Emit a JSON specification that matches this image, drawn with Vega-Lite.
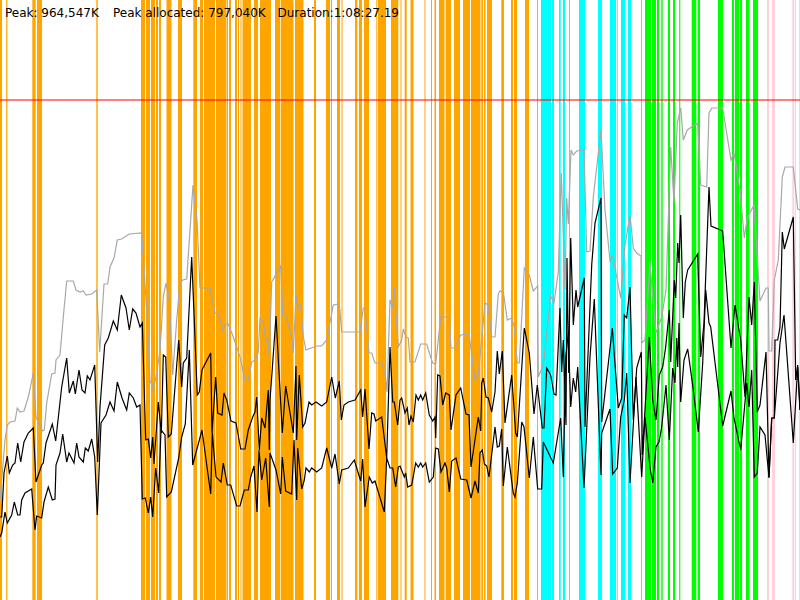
{
  "$schema": "https://vega.github.io/schema/vega-lite/v6.json",
  "description": "Memory use over a run, with marked phases, peak line and two usage lines.",
  "width": 800,
  "height": 600,
  "padding": 0,
  "autosize": {"type": "none"},
  "background": "white",
  "view": {"stroke": null},
  "datasets": {
    "phases": [
      {"start":0,"end":2,"phase":"a"},{"start":6.2,"end":7.4,"phase":"a"},{"start":32.3,"end":35.7,"phase":"a"},{"start":37,"end":42,"phase":"a"},{"start":96.3,"end":97.7,"phase":"a"},{"start":141,"end":145,"phase":"a"},{"start":146,"end":150,"phase":"a"},{"start":151,"end":155,"phase":"a"},{"start":156,"end":158,"phase":"a"},{"start":159,"end":161,"phase":"a"},{"start":166.5,"end":171.5,"phase":"a"},{"start":178,"end":182,"phase":"a"},{"start":193.3,"end":197,"phase":"a"},{"start":200,"end":203,"phase":"a"},{"start":204,"end":215,"phase":"a"},{"start":216,"end":226,"phase":"a"},{"start":226.5,"end":228,"phase":"a"},{"start":229,"end":231,"phase":"a"},{"start":235,"end":237,"phase":"a"},{"start":238,"end":239,"phase":"a"},{"start":240.5,"end":241.5,"phase":"a"},{"start":242.5,"end":251,"phase":"a"},{"start":254,"end":258,"phase":"a"},{"start":260,"end":271,"phase":"a"},{"start":275,"end":280,"phase":"a"},{"start":280.7,"end":293.5,"phase":"a"},{"start":295,"end":303.5,"phase":"a"},{"start":314,"end":316,"phase":"a"},{"start":326,"end":330,"phase":"a"},{"start":331,"end":332,"phase":"a"},{"start":337,"end":340,"phase":"a"},{"start":341.5,"end":342.5,"phase":"a"},{"start":355,"end":357.3,"phase":"a"},{"start":359,"end":362,"phase":"a"},{"start":364,"end":369,"phase":"a"},{"start":376.3,"end":377.3,"phase":"a"},{"start":378,"end":386,"phase":"a"},{"start":391,"end":398.3,"phase":"a"},{"start":400.5,"end":401.5,"phase":"a"},{"start":404.7,"end":406.7,"phase":"a"},{"start":410.5,"end":413.5,"phase":"a"},{"start":424.5,"end":425.5,"phase":"a"},{"start":431,"end":432,"phase":"a"},{"start":434.5,"end":436,"phase":"a"},{"start":439,"end":444.5,"phase":"a"},{"start":445.7,"end":451,"phase":"a"},{"start":454,"end":460,"phase":"a"},{"start":463,"end":470,"phase":"a"},{"start":471,"end":480.5,"phase":"a"},{"start":481.3,"end":483,"phase":"a"},{"start":484,"end":485.5,"phase":"a"},{"start":487,"end":492,"phase":"a"},{"start":501.3,"end":504,"phase":"a"},{"start":511,"end":513,"phase":"a"},{"start":514,"end":517,"phase":"a"},{"start":525,"end":529,"phase":"a"},
      {"start":537,"end":538,"phase":"b"},{"start":541,"end":551,"phase":"b"},{"start":552,"end":554,"phase":"b"},{"start":559,"end":560.7,"phase":"b"},{"start":563,"end":565,"phase":"b"},{"start":569,"end":570,"phase":"b"},{"start":579,"end":583,"phase":"b"},{"start":583,"end":585,"phase":"b"},{"start":598,"end":602,"phase":"b"},{"start":610,"end":616,"phase":"b"},{"start":617.2,"end":617.9,"phase":"b"},{"start":621,"end":625,"phase":"b"},{"start":628,"end":631,"phase":"b"},
      {"start":641.2,"end":641.9,"phase":"c"},{"start":645,"end":651,"phase":"c"},{"start":652,"end":656,"phase":"c"},{"start":657,"end":659,"phase":"c"},{"start":661.3,"end":662.7,"phase":"c"},{"start":668,"end":670,"phase":"c"},{"start":673,"end":675,"phase":"c"},{"start":679.2,"end":680.3,"phase":"c"},{"start":691.7,"end":696.3,"phase":"c"},{"start":697.7,"end":700,"phase":"c"},{"start":718,"end":723,"phase":"c"},{"start":732,"end":734,"phase":"c"},{"start":735,"end":739,"phase":"c"},{"start":740,"end":742,"phase":"c"},{"start":746,"end":749.5,"phase":"c"},{"start":753,"end":758,"phase":"c"},
      {"start":767,"end":769,"phase":"d"},{"start":772,"end":775,"phase":"d"},{"start":792.3,"end":794.3,"phase":"d"},{"start":795,"end":796,"phase":"d"},{"start":799,"end":800,"phase":"d"}
    ],
    "gray": [
      {"t":0,"mem":100},{"t":1.7,"mem":120},{"t":5,"mem":160},{"t":7.3,"mem":175},{"t":10,"mem":178},{"t":15,"mem":179},{"t":17.3,"mem":192},{"t":20,"mem":188},{"t":24,"mem":189},{"t":28.3,"mem":203},{"t":33.3,"mem":227},{"t":36,"mem":183},{"t":39.3,"mem":175},{"t":42.7,"mem":169},{"t":44.3,"mem":170},{"t":46.7,"mem":197},{"t":51.7,"mem":226},{"t":55,"mem":227},{"t":56,"mem":240},{"t":60,"mem":245},{"t":63.3,"mem":283},{"t":66.7,"mem":319},{"t":73.3,"mem":319},{"t":76,"mem":310},{"t":80,"mem":308},{"t":83.3,"mem":309},{"t":86,"mem":305},{"t":91.7,"mem":306},{"t":96.7,"mem":310},{"t":99.7,"mem":248},{"t":104,"mem":316},{"t":107.7,"mem":316},{"t":110,"mem":333},{"t":114,"mem":342},{"t":117.3,"mem":360},{"t":121.7,"mem":361},{"t":129.3,"mem":366},{"t":141.7,"mem":367},{"t":146.7,"mem":290},{"t":150,"mem":220},{"t":153.3,"mem":210},{"t":156.7,"mem":227},{"t":160,"mem":250},{"t":163.3,"mem":303},{"t":166,"mem":317},{"t":169.3,"mem":300},{"t":172.7,"mem":225},{"t":176.7,"mem":280},{"t":180,"mem":317},{"t":182.7,"mem":320},{"t":186.7,"mem":321},{"t":190,"mem":370},{"t":193,"mem":415},{"t":197,"mem":380},{"t":200,"mem":312},{"t":210,"mem":312},{"t":215,"mem":287},{"t":218.3,"mem":286},{"t":222.7,"mem":270},{"t":226,"mem":276},{"t":228.3,"mem":276},{"t":233.3,"mem":263},{"t":240,"mem":243},{"t":245,"mem":220},{"t":248.3,"mem":220},{"t":251.7,"mem":238},{"t":255,"mem":240},{"t":258.3,"mem":248},{"t":260,"mem":282},{"t":263.3,"mem":278},{"t":266,"mem":258},{"t":267.7,"mem":263},{"t":269.3,"mem":243},
      {"t":271.7,"mem":318},{"t":280.7,"mem":334},{"t":282.7,"mem":285},{"t":286,"mem":284},{"t":291.7,"mem":263},{"t":293.3,"mem":247},{"t":296,"mem":305},{"t":298.3,"mem":292},{"t":300.7,"mem":295},{"t":303.3,"mem":263},{"t":306,"mem":250},{"t":316.7,"mem":254},{"t":321.7,"mem":254},{"t":326.7,"mem":260},{"t":333.3,"mem":295},{"t":339.3,"mem":296},{"t":341.7,"mem":268},{"t":360,"mem":268},{"t":363.3,"mem":292},{"t":365,"mem":292},{"t":369,"mem":247},{"t":371.7,"mem":247},{"t":375,"mem":237},{"t":381.7,"mem":237},{"t":385,"mem":227},{"t":387,"mem":208},{"t":390,"mem":300},{"t":392.7,"mem":292},{"t":394.3,"mem":312},{"t":398.3,"mem":253},{"t":401.7,"mem":260},{"t":403.3,"mem":271},{"t":406,"mem":263},{"t":408.3,"mem":262},{"t":410,"mem":238},{"t":415,"mem":238},{"t":420.7,"mem":256},{"t":426.7,"mem":256},{"t":430,"mem":245},{"t":432.7,"mem":237},{"t":435.7,"mem":236},{"t":440.7,"mem":283},{"t":449.3,"mem":283},{"t":451,"mem":252},{"t":455,"mem":252},{"t":460.7,"mem":265},{"t":469,"mem":266},{"t":475,"mem":220},{"t":478.3,"mem":225},{"t":485,"mem":297},{"t":488.3,"mem":295},{"t":491.7,"mem":263},{"t":495,"mem":263},{"t":498.3,"mem":306},{"t":500,"mem":309},{"t":503.3,"mem":308},{"t":507.3,"mem":280},{"t":511.7,"mem":282},{"t":514.3,"mem":273},{"t":517.3,"mem":237},{"t":519.3,"mem":237},{"t":524.3,"mem":332},{"t":529.3,"mem":325},{"t":533.3,"mem":309},{"t":537.7,"mem":314},
      {"t":538.3,"mem":223},{"t":543.3,"mem":235},{"t":550.7,"mem":304},{"t":554,"mem":297},{"t":558.3,"mem":328},{"t":561.3,"mem":427},{"t":565,"mem":310},{"t":566.7,"mem":402},{"t":568.3,"mem":376},{"t":571,"mem":450},{"t":573.3,"mem":445},{"t":576.7,"mem":449},{"t":584,"mem":450},{"t":586.7,"mem":348},{"t":590,"mem":349},{"t":593.3,"mem":403},{"t":601,"mem":470},{"t":605,"mem":390},{"t":610,"mem":339},{"t":612.7,"mem":344},{"t":620.7,"mem":302},{"t":625,"mem":355},{"t":630,"mem":385},{"t":633.3,"mem":352},{"t":636.7,"mem":347},{"t":641,"mem":344},{"t":641.7,"mem":257},{"t":645,"mem":260},{"t":650,"mem":338},{"t":653.3,"mem":297},{"t":656,"mem":267},{"t":661.7,"mem":283},{"t":666,"mem":310},{"t":670.7,"mem":453},{"t":674,"mem":398},{"t":677.3,"mem":477},{"t":680.7,"mem":492},{"t":683.3,"mem":460},{"t":687.3,"mem":470},{"t":697.7,"mem":477},{"t":700.7,"mem":415},{"t":706.7,"mem":413},{"t":709,"mem":487},{"t":711.7,"mem":492},{"t":722.7,"mem":492},{"t":731,"mem":440},{"t":734,"mem":447},{"t":740,"mem":410},{"t":744.3,"mem":362},{"t":747.3,"mem":382},{"t":754,"mem":395},{"t":760,"mem":299},{"t":766,"mem":312},{"t":768.3,"mem":312},{"t":769,"mem":249},{"t":771.7,"mem":249},{"t":774.3,"mem":320},{"t":778.3,"mem":340},{"t":782.3,"mem":423},{"t":785,"mem":433},{"t":793.3,"mem":433},{"t":797.7,"mem":391},{"t":800,"mem":390}
    ],
    "upper": [
      {"t":0,"mem":83},{"t":1.7,"mem":83},{"t":4,"mem":127},{"t":7.3,"mem":144},{"t":9.3,"mem":127},{"t":12.7,"mem":135},{"t":15,"mem":137},{"t":17.7,"mem":157},{"t":20.7,"mem":138},{"t":24,"mem":158},{"t":28.3,"mem":167},{"t":33.3,"mem":172},{"t":36,"mem":118},{"t":41.7,"mem":135},{"t":43.3,"mem":137},{"t":46,"mem":157},{"t":52.3,"mem":176},{"t":55.7,"mem":159},{"t":61.7,"mem":213},{"t":66.7,"mem":242},{"t":69.3,"mem":207},{"t":73.3,"mem":219},{"t":75.3,"mem":206},{"t":79,"mem":230},{"t":82,"mem":210},{"t":85,"mem":207},{"t":87.3,"mem":224},{"t":90,"mem":220},{"t":94.7,"mem":235},{"t":97.7,"mem":138},{"t":100,"mem":193},{"t":104.7,"mem":255},{"t":108.3,"mem":262},{"t":113.3,"mem":279},{"t":117.3,"mem":270},{"t":121.3,"mem":305},{"t":126,"mem":292},{"t":129.3,"mem":270},{"t":132.7,"mem":291},{"t":136,"mem":287},{"t":140,"mem":273},{"t":142.3,"mem":277},{"t":145.7,"mem":160},{"t":148.3,"mem":161},{"t":150.7,"mem":142},{"t":152.7,"mem":163},{"t":154,"mem":136},{"t":158.3,"mem":198},{"t":161.3,"mem":167},{"t":163.3,"mem":245},{"t":165.7,"mem":243},{"t":168.3,"mem":163},{"t":171.3,"mem":166},{"t":178.7,"mem":260},{"t":181.7,"mem":213},{"t":183.3,"mem":237},{"t":186.7,"mem":242},{"t":191.7,"mem":343},{"t":197.3,"mem":205},{"t":199.3,"mem":208},{"t":202,"mem":230},{"t":210.7,"mem":247},{"t":212,"mem":167},{"t":215.7,"mem":223},{"t":217.7,"mem":187},{"t":222,"mem":185},{"t":224,"mem":207},{"t":226.7,"mem":200},{"t":231,"mem":179},{"t":236,"mem":177},{"t":240.7,"mem":151},{"t":245,"mem":151},{"t":248.3,"mem":170},{"t":252.7,"mem":183},{"t":255,"mem":188},{"t":256.7,"mem":203},{"t":259.3,"mem":150},{"t":261.7,"mem":182},{"t":265,"mem":172},{"t":268.3,"mem":210},{"t":269.3,"mem":150},
      {"t":270,"mem":200},{"t":272.7,"mem":237},{"t":276,"mem":284},{"t":282.3,"mem":167},{"t":285.7,"mem":214},{"t":293.3,"mem":167},{"t":296,"mem":234},{"t":296.7,"mem":160},{"t":299.3,"mem":225},{"t":302.7,"mem":173},{"t":305,"mem":177},{"t":309,"mem":198},{"t":311.7,"mem":195},{"t":316,"mem":198},{"t":321.7,"mem":194},{"t":326.7,"mem":198},{"t":331.7,"mem":223},{"t":335.3,"mem":202},{"t":339.3,"mem":219},{"t":341.3,"mem":180},{"t":344,"mem":195},{"t":348.3,"mem":198},{"t":355,"mem":200},{"t":360.7,"mem":210},{"t":362.7,"mem":183},{"t":365,"mem":211},{"t":369,"mem":151},{"t":371.7,"mem":187},{"t":374,"mem":186},{"t":375.7,"mem":179},{"t":381.7,"mem":183},{"t":386.7,"mem":142},{"t":390,"mem":253},{"t":392.7,"mem":198},{"t":394.3,"mem":198},{"t":397.7,"mem":175},{"t":400,"mem":200},{"t":401.7,"mem":202},{"t":405,"mem":187},{"t":407.3,"mem":192},{"t":409,"mem":175},{"t":411,"mem":184},{"t":413.3,"mem":178},{"t":416,"mem":205},{"t":418.3,"mem":200},{"t":420.7,"mem":205},{"t":422.7,"mem":200},{"t":425.7,"mem":207},{"t":429.3,"mem":185},{"t":432.7,"mem":179},{"t":435,"mem":183},{"t":435.7,"mem":162},{"t":437.7,"mem":225},{"t":440,"mem":224},{"t":442.7,"mem":195},{"t":445.7,"mem":207},{"t":449.3,"mem":205},{"t":451,"mem":170},{"t":456,"mem":205},{"t":460.7,"mem":212},{"t":466,"mem":186},{"t":469,"mem":185},{"t":471,"mem":133},{"t":478.3,"mem":183},{"t":480.7,"mem":169},{"t":481.7,"mem":217},{"t":483.3,"mem":222},{"t":486,"mem":203},{"t":488.3,"mem":202},{"t":491.7,"mem":188},{"t":495,"mem":208},{"t":497.3,"mem":249},{"t":499.3,"mem":226},{"t":502.3,"mem":249},{"t":505,"mem":177},{"t":511.7,"mem":225},{"t":515.7,"mem":167},{"t":517.3,"mem":163},{"t":524.3,"mem":272},{"t":529.3,"mem":247},{"t":534,"mem":186},
      {"t":537.3,"mem":215},{"t":542.3,"mem":172},{"t":544,"mem":172},{"t":546.7,"mem":232},{"t":550.7,"mem":225},{"t":554,"mem":206},{"t":556,"mem":205},{"t":560,"mem":292},{"t":561.7,"mem":228},{"t":563.3,"mem":260},{"t":566,"mem":175},{"t":567,"mem":342},{"t":568.7,"mem":227},{"t":570.7,"mem":362},{"t":573.3,"mem":275},{"t":576,"mem":310},{"t":577.7,"mem":293},{"t":584.3,"mem":322},{"t":585,"mem":173},{"t":591.7,"mem":335},{"t":595,"mem":377},{"t":601,"mem":402},{"t":601.7,"mem":178},{"t":612.3,"mem":272},{"t":618.3,"mem":192},{"t":621.7,"mem":202},{"t":624.3,"mem":285},{"t":626.7,"mem":282},{"t":630,"mem":313},{"t":633.3,"mem":180},{"t":636.7,"mem":232},{"t":641.3,"mem":248},{"t":642.3,"mem":145},{"t":649.3,"mem":263},{"t":652.7,"mem":200},{"t":656,"mem":180},{"t":659.3,"mem":225},{"t":662.7,"mem":233},{"t":665.7,"mem":253},{"t":669.3,"mem":290},{"t":670.7,"mem":238},{"t":674.3,"mem":320},{"t":675.7,"mem":302},{"t":677.7,"mem":357},{"t":679,"mem":337},{"t":680.7,"mem":385},{"t":683.3,"mem":282},{"t":685.3,"mem":318},{"t":687.7,"mem":330},{"t":697.7,"mem":346},{"t":700.7,"mem":243},{"t":704,"mem":277},{"t":709,"mem":413},{"t":711,"mem":374},{"t":722.7,"mem":369},{"t":731,"mem":252},{"t":735,"mem":295},{"t":740.7,"mem":260},{"t":745,"mem":203},{"t":749,"mem":303},{"t":751.7,"mem":275},{"t":754.3,"mem":318},{"t":757.3,"mem":188},{"t":760,"mem":195},{"t":766,"mem":248},{"t":769,"mem":123},{"t":771.7,"mem":182},{"t":774.3,"mem":182},{"t":775,"mem":260},{"t":777.7,"mem":260},{"t":780,"mem":273},{"t":782.3,"mem":368},{"t":784.3,"mem":351},{"t":793.3,"mem":383},{"t":795.7,"mem":220},{"t":797.7,"mem":235},{"t":800,"mem":190}
    ],
    "lower": [
      {"t":0,"mem":63},{"t":1.7,"mem":67},{"t":5,"mem":88},{"t":7.3,"mem":77},{"t":11.7,"mem":85},{"t":14.3,"mem":98},{"t":17.7,"mem":85},{"t":20,"mem":85},{"t":21.7,"mem":100},{"t":25,"mem":107},{"t":31.7,"mem":111},{"t":35,"mem":70},{"t":36.7,"mem":84},{"t":41.7,"mem":82},{"t":44,"mem":98},{"t":48.3,"mem":113},{"t":52.3,"mem":100},{"t":55,"mem":101},{"t":56,"mem":135},{"t":60,"mem":147},{"t":62.7,"mem":166},{"t":66.7,"mem":138},{"t":69,"mem":147},{"t":74,"mem":137},{"t":76.7,"mem":157},{"t":79,"mem":143},{"t":83.3,"mem":138},{"t":85.3,"mem":152},{"t":88.3,"mem":149},{"t":91.7,"mem":161},{"t":94.7,"mem":143},{"t":97.3,"mem":85},{"t":101,"mem":177},{"t":106,"mem":185},{"t":110,"mem":198},{"t":114,"mem":189},{"t":117.3,"mem":218},{"t":122,"mem":202},{"t":126.7,"mem":190},{"t":129.3,"mem":207},{"t":133.3,"mem":202},{"t":136.7,"mem":193},{"t":140,"mem":195},{"t":142.3,"mem":101},{"t":145.3,"mem":102},{"t":148.3,"mem":87},{"t":150.7,"mem":103},{"t":152.7,"mem":83},{"t":155.7,"mem":132},{"t":158.7,"mem":107},{"t":161,"mem":170},{"t":165,"mem":165},{"t":166.7,"mem":103},{"t":171.3,"mem":108},{"t":178.7,"mem":142},{"t":181.7,"mem":163},{"t":185.3,"mem":176},{"t":189.3,"mem":250},{"t":192.7,"mem":135},{"t":202,"mem":170},{"t":210.7,"mem":106},{"t":212.3,"mem":167},{"t":216,"mem":123},{"t":221,"mem":118},{"t":223.3,"mem":137},{"t":227.3,"mem":115},{"t":230.7,"mem":115},{"t":236.7,"mem":94},{"t":240,"mem":94},{"t":244.3,"mem":110},{"t":248.3,"mem":110},{"t":250.7,"mem":123},{"t":254,"mem":134},{"t":257,"mem":88},{"t":259,"mem":150},{"t":261.7,"mem":120},{"t":265.7,"mem":142},{"t":269.3,"mem":93},
      {"t":270,"mem":147},{"t":276,"mem":130},{"t":280.7,"mem":106},{"t":282.3,"mem":143},{"t":285.7,"mem":109},{"t":291.7,"mem":106},{"t":294,"mem":160},{"t":296.7,"mem":100},{"t":297.7,"mem":152},{"t":301.7,"mem":111},{"t":304.3,"mem":120},{"t":306,"mem":132},{"t":309.3,"mem":128},{"t":311.7,"mem":132},{"t":316.7,"mem":128},{"t":321.7,"mem":132},{"t":326.7,"mem":152},{"t":331.7,"mem":132},{"t":335,"mem":146},{"t":339.3,"mem":116},{"t":341.7,"mem":130},{"t":348.3,"mem":132},{"t":354.3,"mem":140},{"t":360.7,"mem":119},{"t":362.7,"mem":141},{"t":365,"mem":93},{"t":369.3,"mem":123},{"t":372.3,"mem":117},{"t":375,"mem":119},{"t":384.3,"mem":88},{"t":386.7,"mem":142},{"t":390,"mem":132},{"t":392.7,"mem":132},{"t":395.7,"mem":113},{"t":398.3,"mem":133},{"t":400,"mem":134},{"t":404.3,"mem":123},{"t":405.7,"mem":127},{"t":407.7,"mem":113},{"t":411.7,"mem":115},{"t":415.7,"mem":137},{"t":418.3,"mem":133},{"t":420.7,"mem":137},{"t":422.7,"mem":133},{"t":425.7,"mem":137},{"t":429.3,"mem":118},{"t":433.3,"mem":123},{"t":435.7,"mem":152},{"t":438.3,"mem":151},{"t":441,"mem":128},{"t":445,"mem":137},{"t":446.7,"mem":132},{"t":449.3,"mem":108},{"t":451.7,"mem":139},{"t":456,"mem":142},{"t":460.7,"mem":121},{"t":466.7,"mem":120},{"t":471,"mem":102},{"t":475,"mem":119},{"t":478.3,"mem":107},{"t":480,"mem":147},{"t":482.3,"mem":150},{"t":484.3,"mem":136},{"t":486.7,"mem":134},{"t":489,"mem":123},{"t":495,"mem":173},{"t":497.3,"mem":153},{"t":499.3,"mem":154},{"t":501.7,"mem":171},{"t":503.3,"mem":114},{"t":507.3,"mem":153},{"t":513.3,"mem":107},{"t":515,"mem":103},{"t":517.3,"mem":117},{"t":521.7,"mem":178},{"t":524,"mem":173},{"t":529.3,"mem":122},{"t":533.3,"mem":163},{"t":537.7,"mem":111},
      {"t":541.7,"mem":111},{"t":543.3,"mem":158},{"t":553.3,"mem":137},{"t":560.7,"mem":182},{"t":563.3,"mem":123},{"t":565.7,"mem":243},{"t":568.3,"mem":267},{"t":570.7,"mem":193},{"t":573.3,"mem":222},{"t":575.7,"mem":208},{"t":577.7,"mem":233},{"t":584,"mem":112},{"t":590,"mem":243},{"t":594.3,"mem":301},{"t":601,"mem":125},{"t":601.7,"mem":167},{"t":610,"mem":191},{"t":612.7,"mem":126},{"t":617.3,"mem":132},{"t":620.7,"mem":183},{"t":624.3,"mem":200},{"t":626.7,"mem":227},{"t":630,"mem":117},{"t":636,"mem":223},{"t":641.7,"mem":123},{"t":645,"mem":183},{"t":650,"mem":133},{"t":652.7,"mem":117},{"t":656,"mem":153},{"t":659,"mem":158},{"t":661.7,"mem":173},{"t":666,"mem":215},{"t":669.3,"mem":160},{"t":672.7,"mem":232},{"t":675,"mem":217},{"t":676.7,"mem":262},{"t":677.7,"mem":233},{"t":679,"mem":277},{"t":680.7,"mem":198},{"t":684,"mem":240},{"t":687.7,"mem":251},{"t":693.3,"mem":210},{"t":698.3,"mem":168},{"t":702.7,"mem":237},{"t":705.7,"mem":310},{"t":709,"mem":277},{"t":710.7,"mem":273},{"t":722.7,"mem":174},{"t":731,"mem":209},{"t":734,"mem":182},{"t":740.7,"mem":150},{"t":746.7,"mem":217},{"t":749,"mem":193},{"t":751.7,"mem":230},{"t":754.3,"mem":123},{"t":757.3,"mem":127},{"t":760,"mem":173},{"t":765,"mem":165},{"t":769,"mem":122},{"t":771.7,"mem":182},{"t":774.3,"mem":182},{"t":780,"mem":257},{"t":784,"mem":285},{"t":793.3,"mem":157},{"t":797.7,"mem":233},{"t":800,"mem":190}
    ],
    "peak": [{"mem":500}],
    "labels": [
      {"t":5,"mem":583.5,"label":"Peak: 964,547K"},
      {"t":113,"mem":583.5,"label":"Peak allocated: 797,040K"},
      {"t":277.5,"mem":583.5,"label":"Duration:1:08:27.19"}
    ]
  },
  "encoding": {
    "x": {"field": "t", "type": "quantitative", "scale": {"domain": [0, 800], "nice": false, "zero": false}, "axis": null},
    "y": {"field": "mem", "type": "quantitative", "scale": {"domain": [0, 600], "nice": false}, "axis": null}
  },
  "layer": [
    {
      "data": {"name": "phases"},
      "mark": {"type": "rect"},
      "encoding": {
        "x": {"field": "start", "type": "quantitative", "scale": {"domain": [0, 800], "nice": false, "zero": false}, "axis": null},
        "x2": {"field": "end"},
        "y": {"value": 0},
        "y2": {"value": 600},
        "color": {
          "field": "phase",
          "type": "nominal",
          "scale": {"domain": ["a", "b", "c", "d"], "range": ["#ffa500", "#00ffff", "#00ff00", "#ffd2dc"]},
          "legend": null
        }
      }
    },
    {
      "data": {"name": "peak"},
      "mark": {"type": "rule", "color": "#ff0000", "strokeWidth": 2, "opacity": 0.5},
      "encoding": {"x": null, "y": {"field": "mem", "type": "quantitative", "scale": {"domain": [0, 600], "nice": false}, "axis": null}}
    },
    {
      "data": {"name": "gray"},
      "mark": {"type": "line", "color": "#a8a8a8", "strokeWidth": 1.2},
      "encoding": {}
    },
    {
      "data": {"name": "upper"},
      "mark": {"type": "line", "color": "#000000", "strokeWidth": 1.2},
      "encoding": {}
    },
    {
      "data": {"name": "lower"},
      "mark": {"type": "line", "color": "#000000", "strokeWidth": 1.2},
      "encoding": {}
    },
    {
      "data": {"name": "labels"},
      "mark": {"type": "text", "align": "left", "baseline": "alphabetic", "font": "DejaVu Sans", "fontSize": 12, "color": "#000000"},
      "encoding": {"text": {"field": "label"}}
    }
  ]
}
